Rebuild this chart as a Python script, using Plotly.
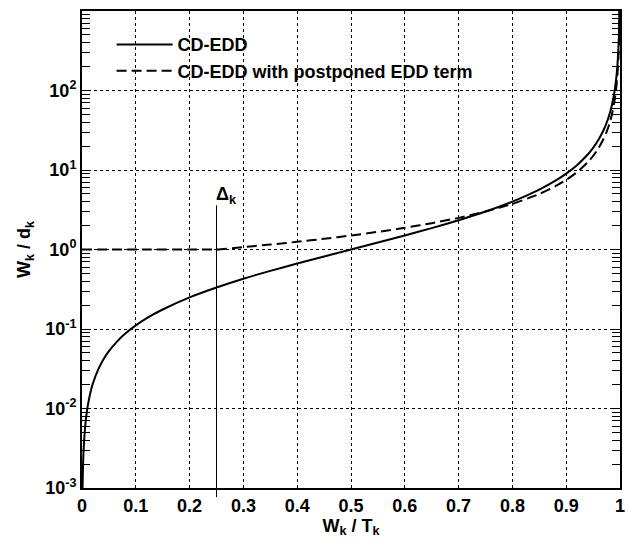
import math
import plotly.graph_objects as go

# Solid curve: CD-EDD
x_cd = [0.0008, 0.001, 0.002, 0.003, 0.005, 0.0075, 0.01, 0.015, 0.02, 0.03, 0.04, 0.05, 0.065, 0.08, 0.1, 0.125, 0.15, 0.2,
        0.25, 0.3, 0.35, 0.4, 0.45, 0.5, 0.55, 0.6, 0.65, 0.7, 0.75, 0.8, 0.85, 0.88,
        0.9, 0.92, 0.94, 0.95, 0.96, 0.97, 0.975, 0.98, 0.985, 0.99, 0.993, 0.995, 0.997, 0.998, 0.999]
y_cd = [0.0008, 0.001, 0.002, 0.003, 0.005, 0.00756, 0.0101, 0.0152, 0.0204, 0.0309, 0.0417, 0.0526, 0.0695, 0.087, 0.111, 0.143, 0.176, 0.25,
        0.333, 0.429, 0.538, 0.667, 0.818, 1.0, 1.222, 1.5, 1.857, 2.333, 3.0, 4.0, 5.667, 7.33,
        9.0, 11.5, 15.67, 19.0, 24.0, 32.3, 39.0, 49.0, 65.7, 99.0, 142.0, 199.0, 332.0, 499.0, 999.0]

# Dashed curve: CD-EDD with postponed EDD term
x_pp = [0.0, 0.1, 0.2, 0.25, 0.3, 0.35, 0.4, 0.45, 0.5, 0.55, 0.6, 0.65, 0.7, 0.75, 0.8, 0.85, 0.88,
        0.9, 0.92, 0.94, 0.95, 0.96, 0.97, 0.975, 0.98, 0.985, 0.99, 0.993, 0.995, 0.997, 0.998, 0.99925]
y_pp = [1.0, 1.0, 1.0, 1.0, 1.071, 1.154, 1.25, 1.364, 1.5, 1.667, 1.875, 2.143, 2.5, 3.0, 3.75, 5.0, 6.25,
        7.5, 9.375, 12.5, 15.0, 18.75, 25.0, 30.0, 37.5, 50.0, 75.0, 107.0, 150.0, 250.0, 375.0, 1000.0]

series_names = ["CD-EDD", "CD-EDD with postponed EDD term"]
delta_x = 0.25
delta_top = 3.6

x_ticks = [0, 0.1, 0.2, 0.3, 0.4, 0.5, 0.6, 0.7, 0.8, 0.9, 1]
x_ticktext = ["0", "0.1", "0.2", "0.3", "0.4", "0.5", "0.6", "0.7", "0.8", "0.9", "1"]
y_ticks = [1e-3, 1e-2, 1e-1, 1, 10, 100, 1000]
y_ticktext = ["10<sup>-3</sup>", "10<sup>-2</sup>", "10<sup>-1</sup>", "10<sup>0</sup>",
              "10<sup>1</sup>", "10<sup>2</sup>", "10<sup>3</sup>"]
y_minor = [m * d for d in [1e-3, 1e-2, 1e-1, 1, 10, 100] for m in range(2, 10)]

FONT = "Liberation Sans"
W, H = 629, 545
ML, MR, MT, MB = 82, 4, 11, 57

fig = go.Figure()
fig.add_trace(go.Scatter(x=x_cd, y=y_cd, mode="lines", name="<b>%s</b>" % series_names[0],
                         line=dict(color="black", width=2, shape="spline", smoothing=0.6)))
fig.add_trace(go.Scatter(x=x_pp, y=y_pp, mode="lines", name="<b>%s</b>" % series_names[1],
                         line=dict(color="black", width=2, dash="10px,5px", shape="spline", smoothing=0.6)))

ymin, ymax = -3, 3
top_frac = (math.log10(delta_top) - ymin) / (ymax - ymin)
fig.add_shape(type="line", xref="x", yref="paper", x0=delta_x, x1=delta_x, y0=-0.019, y1=top_frac,
              line=dict(color="black", width=1))
fig.add_annotation(x=delta_x, y=top_frac, xref="x", yref="paper", text="<b>Δ<sub>k</sub></b>",
                   showarrow=False, xanchor="left", yanchor="bottom", xshift=-3, yshift=-4,
                   font=dict(family=FONT, size=18, color="black"))

fig.update_layout(
    width=W, height=H,
    margin=dict(l=ML, r=MR, t=MT, b=MB),
    plot_bgcolor="white", paper_bgcolor="white",
    font=dict(family=FONT, size=18, color="black"),
    showlegend=True,
    legend=dict(x=0.055, y=0.968, xanchor="left", yanchor="top", bgcolor="rgba(0,0,0,0)",
                font=dict(family=FONT, size=18, color="black"), itemwidth=56,
                tracegroupgap=0),
)
fig.update_xaxes(
    range=[0, 1], tickmode="array", tickvals=x_ticks, ticktext=["<b>%s</b>" % t for t in x_ticktext],
    showgrid=True, gridcolor="black", griddash="dot", gridwidth=1,
    showline=True, linecolor="black", linewidth=2, mirror=True,
    ticks="", zeroline=False,
    title=dict(text="<b>W<sub>k</sub> / T<sub>k</sub></b>", standoff=2,
               font=dict(family=FONT, size=18)),
    tickfont=dict(family=FONT, size=18),
)
fig.update_yaxes(
    type="log", range=[ymin, ymax], tickmode="array", tickvals=y_ticks,
    ticktext=["<b>%s</b>" % t for t in y_ticktext],
    showgrid=True, gridcolor="black", griddash="dot", gridwidth=1,
    showline=True, linecolor="black", linewidth=2, mirror="allticks",
    ticks="inside", ticklen=8, tickwidth=1.2, tickcolor="black",
    minor=dict(ticks="inside", ticklen=8, tickwidth=1.2, tickcolor="black", showgrid=False,
               tickmode="array", tickvals=y_minor),
    zeroline=False,
    title=dict(text="<b>W<sub>k</sub> / d<sub>k</sub></b>", standoff=10,
               font=dict(family=FONT, size=18)),
    tickfont=dict(family=FONT, size=18),
)

fig.write_html("out.html")
